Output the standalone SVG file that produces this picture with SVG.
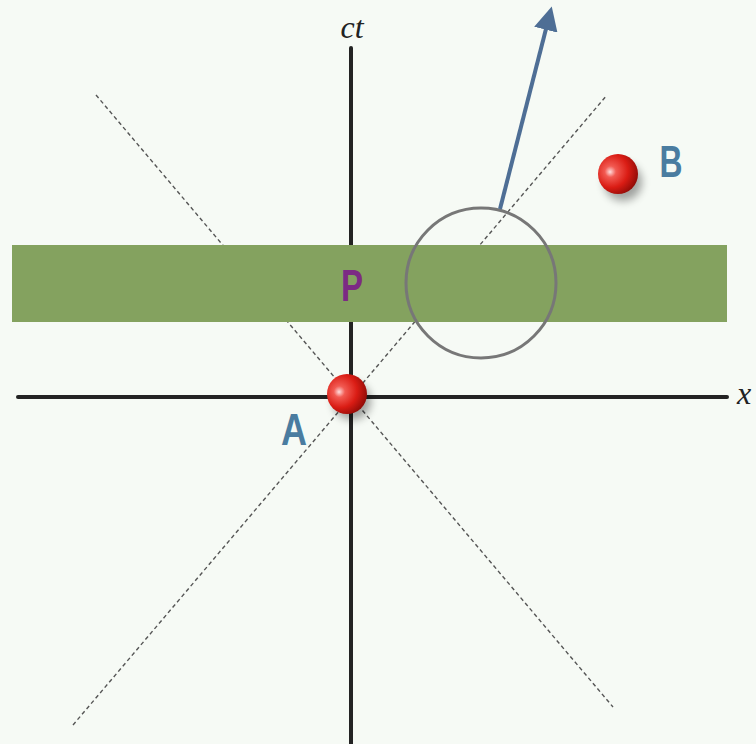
<svg xmlns="http://www.w3.org/2000/svg" width="756" height="744" viewBox="0 0 756 744">
  <style>
    .axis { stroke: #232323; stroke-width: 4; stroke-linecap: round; fill: none; }
    .cone { stroke: #555; stroke-width: 1.4; stroke-dasharray: 4 3; fill: none; }
    .axlabel { font-family: "Liberation Serif", "DejaVu Serif", serif; font-style: italic; font-size: 32px; fill: #222; }
    .lbl { font-family: "Liberation Sans", "DejaVu Sans", sans-serif; font-weight: bold; font-size: 44px; }
  </style>
  <defs>
    <radialGradient id="ball" cx="0.35" cy="0.4" r="0.7" fx="0.3" fy="0.45">
      <stop offset="0" stop-color="#ffdede"/>
      <stop offset="0.2" stop-color="#f25a52"/>
      <stop offset="0.6" stop-color="#da1c14"/>
      <stop offset="1" stop-color="#8a0a06"/>
    </radialGradient>
    <filter id="shadow" x="-50%" y="-50%" width="200%" height="200%">
      <feGaussianBlur stdDeviation="4"/>
    </filter>
    <marker id="head" viewBox="0 0 10 10" refX="2" refY="5" markerWidth="6" markerHeight="6" markerUnits="strokeWidth" orient="auto">
      <path d="M0,0 L10,5 L0,10 z" fill="#4e6e95"/>
    </marker>
  </defs>
  <rect width="756" height="744" fill="#f6faf5"/>

  <g id="connectors">
    <line class="cone" x1="96" y1="95" x2="613" y2="707"/>
    <line class="cone" x1="73" y1="725" x2="607" y2="95"/>
    <line id="ct-axis" class="axis" x1="351" y1="48" x2="351" y2="746"/>
    <line id="x-axis" class="axis" x1="18" y1="397" x2="727" y2="397"/>
  </g>

  <g id="band-P">
    <rect x="12" y="245" width="715" height="77" fill="#84a25f"/>
    <text class="lbl" x="352" y="301" text-anchor="middle" fill="#7c2a84" textLength="22" lengthAdjust="spacingAndGlyphs">P</text>
  </g>

  <g id="circle">
    <circle cx="481" cy="283" r="75" fill="none" stroke="#777" stroke-width="3"/>
  </g>

  <g id="arrow">
    <line x1="500" y1="209" x2="547" y2="25" stroke="#4e6e95" stroke-width="4" marker-end="url(#head)"/>
  </g>

  <g id="ball-A">
    <circle cx="352" cy="401" r="19" fill="#000" opacity="0.35" filter="url(#shadow)"/>
    <circle cx="347" cy="394" r="20" fill="url(#ball)"/>
    <text class="lbl" x="294" y="445" text-anchor="middle" fill="#4a7ca0" textLength="26" lengthAdjust="spacingAndGlyphs">A</text>
  </g>

  <g id="ball-B">
    <circle cx="623" cy="182" r="19" fill="#000" opacity="0.35" filter="url(#shadow)"/>
    <circle cx="618" cy="174" r="20" fill="url(#ball)"/>
    <text class="lbl" x="671" y="177" text-anchor="middle" fill="#4a7ca0" textLength="23" lengthAdjust="spacingAndGlyphs">B</text>
  </g>

  <g id="labels">
    <text class="axlabel" x="352" y="38" text-anchor="middle">ct</text>
    <text class="axlabel" x="744" y="404" text-anchor="middle">x</text>
  </g>
</svg>
